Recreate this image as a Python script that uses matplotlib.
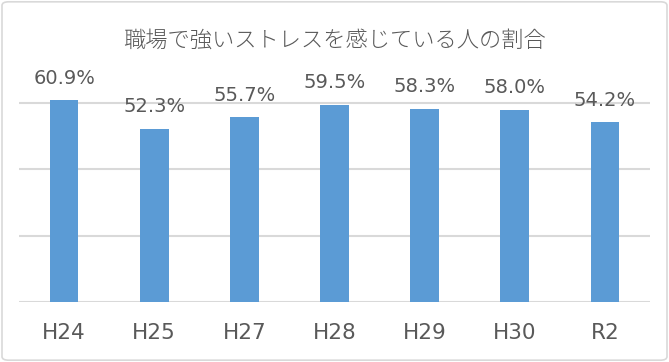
import matplotlib.pyplot as plt
from matplotlib.patches import FancyBboxPatch

plt.rcParams['font.family'] = ['DejaVu Sans', 'Noto Sans CJK JP']

categories = ["H24", "H25", "H27", "H28", "H29", "H30", "R2"]
values = [60.9, 52.3, 55.7, 59.5, 58.3, 58.0, 54.2]
title = "職場で強いストレスを感じている人の割合"

text_color = "#595959"
bar_color = "#5B9BD5"
grid_color = "#D9D9D9"

fig = plt.figure(figsize=(6.69, 3.62), dpi=100)
ax = fig.add_axes([19 / 669, 1 - 302 / 362, 631 / 669, 232 / 362])

x = range(len(categories))
bars = ax.bar(x, values, width=0.32, color=bar_color, zorder=3)
ax.set_xlim(-0.5, len(categories) - 0.5)
ax.set_ylim(0, 70)

for g in [0, 20, 40, 60]:
    ax.axhline(g, color=grid_color, lw=1.5, zorder=1)

for xi, v in zip(x, values):
    ax.annotate(f"{v:.1f}%", (xi, v), xytext=(0, 9), textcoords="offset points",
                ha="center", va="bottom", fontsize=14, color=text_color)

ax.set_xticks(list(x))
ax.set_xticklabels(categories, fontsize=15.5, color=text_color)
ax.tick_params(axis="x", length=0, pad=15)
ax.set_yticks([])
for s in ax.spines.values():
    s.set_visible(False)

fig.text(0.5, 1 - 41 / 362, title, ha="center", va="center", fontsize=16,
         color=text_color, family="Noto Sans CJK JP", fontweight="light")

border = FancyBboxPatch((0.003, 0.005), 0.994, 0.99, boxstyle="round,pad=0,rounding_size=0.01",
                        transform=fig.transFigure, fill=False, ec="#D9D9D9", lw=1.2)
fig.patches.append(border)

fig.savefig("out.png", dpi=100)
